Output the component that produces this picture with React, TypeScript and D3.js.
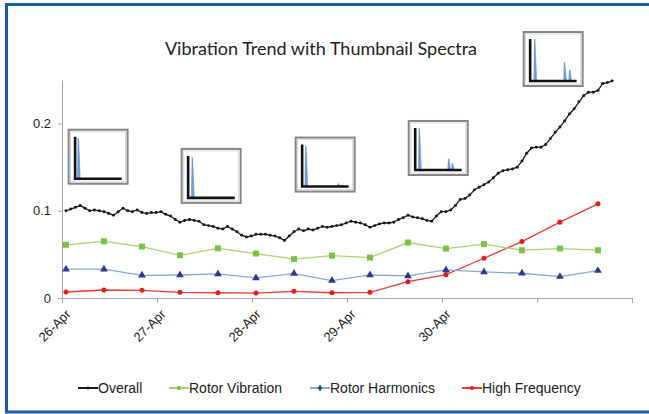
import * as d3 from 'd3';
import React, { useEffect, useRef } from 'react';

// readings of the 4 traces (in/s)
const overall = [
  0.100, 0.102, 0.104, 0.106, 0.103, 0.100, 0.101, 0.100, 0.099, 0.097,
  0.095, 0.099, 0.103, 0.100, 0.099, 0.101, 0.098, 0.097, 0.098, 0.098,
  0.099, 0.096, 0.094, 0.090, 0.087, 0.089, 0.090, 0.089, 0.088, 0.084,
  0.083, 0.082, 0.080, 0.079, 0.082, 0.079, 0.076, 0.072, 0.070, 0.071,
  0.073, 0.073, 0.073, 0.072, 0.071, 0.069, 0.066, 0.071, 0.076, 0.079,
  0.077, 0.079, 0.078, 0.080, 0.082, 0.081, 0.082, 0.083, 0.084, 0.086,
  0.088, 0.087, 0.086, 0.084, 0.081, 0.083, 0.085, 0.086, 0.086, 0.087,
  0.090, 0.092, 0.095, 0.093, 0.092, 0.091, 0.089, 0.088, 0.094, 0.099,
  0.099, 0.101, 0.106, 0.113, 0.114, 0.118, 0.124, 0.127, 0.130, 0.133,
  0.138, 0.143, 0.146, 0.147, 0.148, 0.150, 0.157, 0.166, 0.172, 0.173,
  0.173, 0.176, 0.183, 0.190, 0.196, 0.203, 0.211, 0.217, 0.225, 0.232,
  0.236, 0.236, 0.238, 0.246, 0.247, 0.249,
];
const rotorVibration = [0.061, 0.065, 0.059, 0.049, 0.057, 0.051, 0.0445, 0.0486, 0.0463, 0.0636, 0.0567, 0.0617, 0.0548, 0.0567, 0.0548];
const rotorHarmonics = [0.033, 0.033, 0.026, 0.0264, 0.0276, 0.023, 0.028, 0.020, 0.0264, 0.0253, 0.0322, 0.0299, 0.0284, 0.0245, 0.0314];
const highFrequency = [0.0069, 0.0092, 0.0088, 0.0065, 0.006, 0.0057, 0.0077, 0.006, 0.0065, 0.0187, 0.0268, 0.0456, 0.0647, 0.087, 0.108];

// sampling (hours from 26-Apr 00:00)
const firstHour = 1;
const overallStepHours = 1.2;
const bandStepHours = 9.6;

const yTicks = [0, 0.1, 0.2];
const yTickLabels = ['0', '0.1', '0.2'];
const xTickLabels = ['26-Apr', '27-Apr', '28-Apr', '29-Apr', '30-Apr', '', ''];

// thumbnail spectra: day of capture, top of box (chart units), peaks [freq frac, amp frac]
const thumbDays = [0.38, 1.57, 2.77, 3.96, 5.17];
const thumbTops = [0.193, 0.171, 0.184, 0.203, 0.305];
const thumbPeaks = [
  [[0.07, 0.97]],
  [[0.09, 0.97]],
  [[0.08, 0.98], [0.78, 0.07], [0.86, 0.04]],
  [[0.09, 1.0], [0.72, 0.27], [0.8, 0.16]],
  [[0.1, 1.0], [0.74, 0.45], [0.85, 0.27]],
];

const legendItems = ['Overall', 'Rotor Vibration', 'Rotor Harmonics', 'High Frequency'];

const App = () => {
  const ref = useRef(null);

  useEffect(() => {
    const svg = d3.select(ref.current);
    svg.selectAll('*').remove();

    const base = new Date(2011, 3, 26).getTime();
    const hour = 3600000;
    const x = d3.scaleTime()
      .domain([new Date(2011, 3, 26), new Date(2011, 4, 2)])
      .range([62, 632]);
    const y = d3.scaleLinear().domain([0, 0.25]).range([298, 80]);

    const axisColor = '#a6a6a6';

    // frame
    svg.append('rect')
      .attr('x', 6.5).attr('y', 4.5)
      .attr('width', 700).attr('height', 407.5)
      .attr('fill', 'white')
      .attr('stroke', '#1d5ba6').attr('stroke-width', 3);

    // title
    svg.append('text')
      .attr('x', 321).attr('y', 55)
      .attr('text-anchor', 'middle')
      .attr('font-family', 'Lato, sans-serif')
      .attr('font-size', 18)
      .attr('fill', '#222')
      .text('Vibration Trend with Thumbnail Spectra');

    // y axis
    const gy = svg.append('g')
      .attr('transform', 'translate(62,0)')
      .call(d3.axisLeft(y).tickValues(yTicks).tickSize(4).tickSizeOuter(0)
        .tickFormat((d, i) => yTickLabels[i]));
    gy.select('.domain').attr('stroke', axisColor);
    gy.selectAll('line').attr('stroke', axisColor);
    gy.selectAll('text')
      .attr('x', -11)
      .attr('font-family', '"Liberation Sans", Arial, sans-serif')
      .attr('font-size', 13)
      .attr('fill', '#222');

    // x axis
    const dayTicks = xTickLabels.map((_, i) => new Date(base + i * 24 * hour));
    const gx = svg.append('g')
      .attr('transform', 'translate(0,298)')
      .call(d3.axisBottom(x).tickValues(dayTicks).tickSize(5).tickSizeOuter(0)
        .tickFormat((d, i) => xTickLabels[i]));
    gx.select('.domain').attr('stroke', axisColor);
    gx.selectAll('line').attr('stroke', axisColor);
    gx.selectAll('text')
      .attr('font-family', '"Liberation Sans", Arial, sans-serif')
      .attr('font-size', 13)
      .attr('fill', '#222')
      .attr('text-anchor', 'end')
      .attr('dy', null)
      .attr('y', null)
      .attr('transform', 'translate(9,17) rotate(-45)');

    const line = d3.line().x(d => x(d.t)).y(d => y(d.v));
    const bandData = arr => arr.map((v, i) => ({ t: new Date(base + (firstHour + i * bandStepHours) * hour), v }));
    const overallData = overall.map((v, i) => ({ t: new Date(base + (firstHour + i * overallStepHours) * hour), v }));

    const drawSeries = (data, lineColor, markerColor, marker) => {
      svg.append('path')
        .datum(data)
        .attr('fill', 'none')
        .attr('stroke', lineColor)
        .attr('stroke-width', 1.3)
        .attr('d', line);
      svg.append('g').selectAll('path')
        .data(data)
        .join('path')
        .attr('transform', d => `translate(${x(d.t)},${y(d.v)})`)
        .attr('d', marker)
        .attr('fill', markerColor);
    };

    const sym = (type, size) => d3.symbol().type(type).size(size)();

    drawSeries(bandData(highFrequency), '#ee3b33', '#e11f1f', sym(d3.symbolCircle, 20));
    drawSeries(bandData(rotorHarmonics), '#88a8dc', '#2b3990', sym(d3.symbolTriangle, 26));
    drawSeries(bandData(rotorVibration), '#a8d46f', '#7cc244', sym(d3.symbolSquare, 36));
    drawSeries(overallData, '#1a1a1a', '#1a1a1a', sym(d3.symbolCircle, 7));

    // thumbnails
    const tw = 59, th = 54;
    thumbDays.forEach((day, k) => {
      const cx = x(new Date(base + day * 24 * hour));
      const top = y(thumbTops[k]);
      const g = svg.append('g').attr('transform', `translate(${cx - tw / 2},${top})`);
      g.append('rect')
        .attr('x', 0).attr('y', 0).attr('width', tw).attr('height', th)
        .attr('fill', 'white')
        .attr('stroke', '#858585').attr('stroke-width', 2);
      g.append('rect')
        .attr('x', 2).attr('y', 2).attr('width', tw - 4).attr('height', th - 4)
        .attr('fill', 'none')
        .attr('stroke', '#d8d8d8').attr('stroke-width', 1);
      const fx = d3.scaleLinear().domain([0, 1]).range([6.5, tw - 6]);
      const fy = d3.scaleLinear().domain([0, 1]).range([th - 5, 7]);
      thumbPeaks[k].forEach(([f, a]) => {
        const pts = [[f - 0.02, 0], [f - 0.006, a], [f + 0.006, a * 0.95], [f + 0.04, 0]];
        g.append('path')
          .attr('d', d3.line().x(p => fx(p[0])).y(p => fy(p[1]))(pts))
          .attr('fill', '#6f9edc')
          .attr('stroke', '#4a7fcb')
          .attr('stroke-width', 0.5);
      });
      g.append('path')
        .attr('d', `M${fx(0)},${fy(1)}V${fy(0)}H${fx(1)}`)
        .attr('fill', 'none')
        .attr('stroke', '#111')
        .attr('stroke-width', 2.6);
    });

    // legend
    const legendX = [78, 169, 310, 462];
    const legendColors = ['#1a1a1a', '#a8d46f', '#88a8dc', '#ee3b33'];
    const legendMarkerColors = ['#1a1a1a', '#7cc244', '#2b3990', '#e11f1f'];
    const legendMarkers = [sym(d3.symbolCircle, 7), sym(d3.symbolSquare, 14), sym(d3.symbolDiamond, 14), sym(d3.symbolCircle, 14)];
    const lg = svg.append('g').attr('transform', 'translate(0,388)');
    legendItems.forEach((name, i) => {
      lg.append('line')
        .attr('x1', legendX[i]).attr('x2', legendX[i] + 20)
        .attr('stroke', legendColors[i]).attr('stroke-width', 2);
      lg.append('path')
        .attr('transform', `translate(${legendX[i] + 10},0)`)
        .attr('d', legendMarkers[i])
        .attr('fill', legendMarkerColors[i]);
      lg.append('text')
        .attr('x', legendX[i] + 20).attr('y', 5)
        .attr('font-family', '"Liberation Sans", Arial, sans-serif')
        .attr('font-size', 14)
        .attr('fill', '#222')
        .text(name);
    });
  }, []);

  return (
    <svg ref={ref} width={649} height={414}
      style={{ position: 'absolute', left: 0, top: 0, display: 'block', background: 'white' }} />
  );
};

export default App;
